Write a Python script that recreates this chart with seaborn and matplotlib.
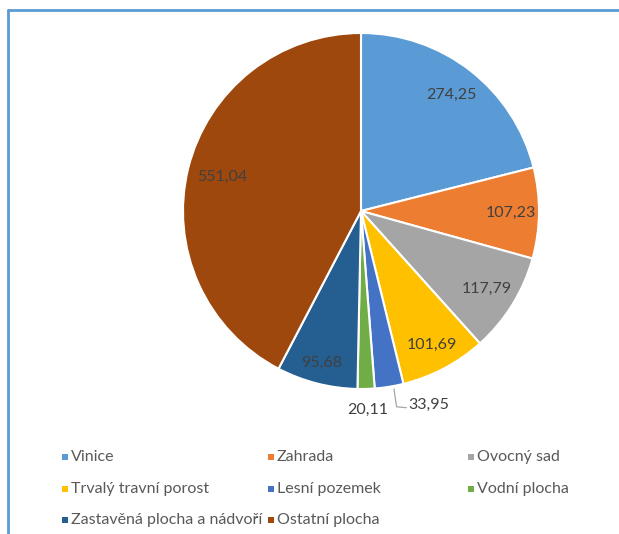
import numpy as np
import seaborn as sns
import matplotlib.pyplot as plt
from matplotlib.lines import Line2D
from matplotlib.patches import Rectangle

categories = ["Vinice", "Zahrada", "Ovocný sad", "Trvalý travní porost",
              "Lesní pozemek", "Vodní plocha", "Zastavěná plocha a nádvoří",
              "Ostatní plocha"]
values = [274.25, 107.23, 117.79, 101.69, 33.95, 20.11, 95.68, 551.04]
value_labels = ["274,25", "107,23", "117,79", "101,69", "33,95", "20,11", "95,68", "551,04"]

colors = ["#5B9BD5", "#ED7D31", "#A5A5A5", "#FFC000",
          "#4472C4", "#70AD47", "#255E91", "#9E480E"]

sns.set_theme(style="white")
plt.rcParams['font.family'] = ['Lato', 'DejaVu Sans']

W, H = 619, 534
fig = plt.figure(figsize=(W / 100, H / 100), dpi=100)

# pie centre and radius in pixels
cx, cy, r = 361, 211, 178
ax = fig.add_axes([(cx - r) / W, (H - cy - r) / H, 2 * r / W, 2 * r / H])

wedges, _ = ax.pie(values, colors=colors, startangle=90, counterclock=False,
                   wedgeprops=dict(edgecolor="white", linewidth=1.5))
ax.set_xlim(-1, 1)
ax.set_ylim(-1, 1)
ax.set_aspect("equal")
ax.axis("off")

# inside labels: distance from centre as fraction of radius
label_dist = [0.83, 0.84, 0.83, 0.85, None, None, 0.88, 0.80]
for w, lab, d in zip(wedges, value_labels, label_dist):
    if d is None:
        continue
    ang = np.deg2rad((w.theta1 + w.theta2) / 2)
    ax.text(d * np.cos(ang), d * np.sin(ang), lab, ha="center", va="center",
            fontsize=11.5, color="#404040")

# small slices labelled outside
ax.text(0.04, -1.12, value_labels[5], ha="center", va="center",
        fontsize=11.5, color="#404040")
ax.text(0.38, -1.09, value_labels[4], ha="center", va="center",
        fontsize=11.5, color="#404040")
ax.plot([0.185, 0.20, 0.255], [-1.0, -1.10, -1.105], color="#A6A6A6",
        lw=0.9, clip_on=False)

# frame of the chart area (top and left edges)
fig.add_artist(Line2D([8 / W, 1], [1 - 10 / H, 1 - 10 / H], color="#5B9BD5", lw=2))
fig.add_artist(Line2D([8 / W, 8 / W], [0, 1 - 10 / H], color="#5B9BD5", lw=2))

# legend laid out in rows like the original
col_x = [65, 271, 471]
row_y = [457, 489, 520]
for i, (name, c) in enumerate(zip(categories, colors)):
    row, col = divmod(i, 3)
    x, y = col_x[col], row_y[row]
    fig.add_artist(Rectangle(((x - 3) / W, 1 - (y + 3) / H), 6 / W, 6 / H,
                             facecolor=c, edgecolor="none",
                             transform=fig.transFigure))
    fig.text((x + 6) / W, 1 - y / H, name, ha="left", va="center",
             fontsize=11.5, color="#595959")

fig.savefig("out.png", dpi=100, facecolor="white")
